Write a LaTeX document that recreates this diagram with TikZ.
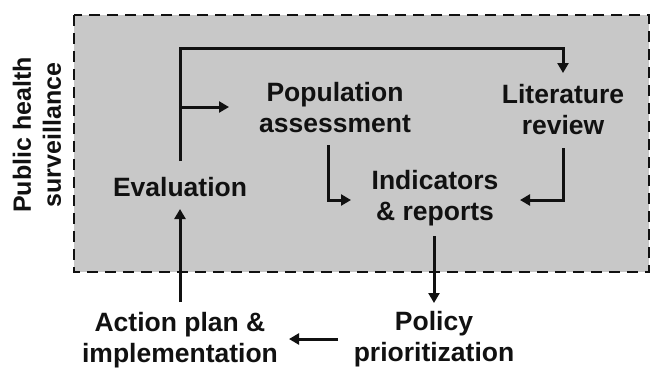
\documentclass[tikz,border=0pt]{standalone}
\usepackage{fontspec}
\setmainfont{Liberation Sans}
\usetikzlibrary{arrows.meta}
\definecolor{boxgray}{HTML}{C8C8C8}
\definecolor{ink}{HTML}{111111}
\begin{document}
\begin{tikzpicture}[x=1pt,y=-1pt,
  lbl/.style={font=\bfseries\fontsize{26.5}{31}\selectfont, align=center, text=ink, inner sep=0pt},
  sidelbl/.style={font=\bfseries\fontsize{25}{30}\selectfont, align=center, text=ink, inner sep=0pt, rotate=90},
  conn/.style={draw=ink, line width=3pt, line join=miter, -{Triangle[length=10pt,width=11pt]}},
  survbox/.style={draw=ink, line width=2.4pt, dash pattern=on 11pt off 7pt, fill=boxgray}]
\useasboundingbox (0,0) rectangle (654,370);
\path[survbox] (74,15) rectangle (649,272);
\node[lbl] (eval) at (180,187) {Evaluation};
\node[lbl] (pop) at (335,108) {Population\\assessment};
\node[lbl] (lit) at (563,110) {Literature\\review};
\node[lbl] (ind) at (435,198) {Indicators\\\& reports};
\node[lbl] (pol) at (434,339) {Policy\\prioritization};
\node[lbl] (act) at (180,340) {Action plan \&\\implementation};
\node[sidelbl] (phs) at (37,135) {Public health\\surveillance};
% connector points
\coordinate (evtop) at (180,161);
\coordinate (c1) at (180,48);
\coordinate (c2) at (563,48);
\coordinate (littop) at (563,73);
\coordinate (b0) at (180,107);
\coordinate (poptip) at (229,107);
\coordinate (popbot) at (328,145);
\coordinate (popbend) at (328,200);
\coordinate (indleft) at (351,200);
\coordinate (litbot) at (563,148);
\coordinate (litbend) at (563,200);
\coordinate (indright) at (520,200);
\coordinate (indbot) at (434,236);
\coordinate (poltop) at (434,303);
\coordinate (polleft) at (338,339);
\coordinate (actright) at (289,339);
\coordinate (acttop) at (180,302);
\coordinate (evbot) at (180,209);
\draw[conn] (evtop) -- (c1) -- (c2) -- (littop);
\draw[conn] (b0) -- (poptip);
\draw[conn] (popbot) -- (popbend) -- (indleft);
\draw[conn] (litbot) -- (litbend) -- (indright);
\draw[conn] (indbot) -- (poltop);
\draw[conn] (polleft) -- (actright);
\draw[conn] (acttop) -- (evbot);
\end{tikzpicture}
\end{document}
